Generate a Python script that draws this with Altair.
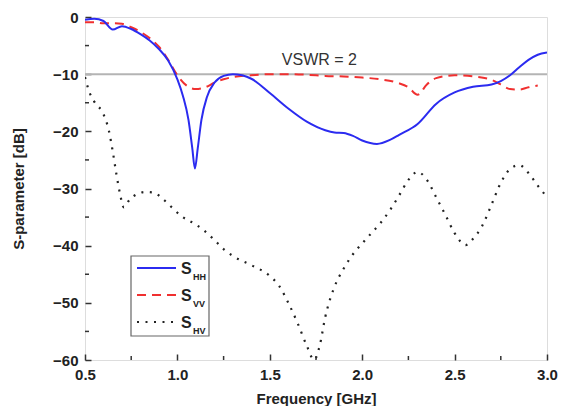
import altair as alt
import pandas as pd

# ---------------- data ----------------
freq_hh = [0.5, 0.55, 0.6, 0.65, 0.7, 0.75, 0.8, 0.85, 0.9, 0.95, 1.0, 1.03, 1.06, 1.08,
           1.095, 1.11, 1.13, 1.16, 1.2, 1.25, 1.3, 1.35, 1.4, 1.5, 1.6, 1.7, 1.8, 1.85,
           1.9, 1.95, 2.0, 2.08, 2.15, 2.2, 2.3, 2.4, 2.5, 2.6, 2.7, 2.75, 2.8, 2.85, 2.9,
           2.95, 3.0]
s_hh = [-0.5, -0.3, -0.7, -2.2, -1.6, -2.1, -3.0, -4.1, -5.6, -7.6, -10.9, -13.8, -18.0,
        -22.8, -26.5, -23.0, -18.0, -14.0, -11.5, -10.3, -10.0, -10.2, -10.8, -13.3, -16.0,
        -18.3, -19.8, -20.2, -20.3, -20.8, -21.6, -22.2, -21.5, -20.6, -18.7, -15.2, -13.2,
        -12.2, -11.8, -11.2, -10.2, -8.8, -7.5, -6.6, -6.2]

freq_vv = [0.5, 0.55, 0.6, 0.65, 0.7, 0.75, 0.8, 0.85, 0.9, 0.95, 1.0, 1.05, 1.1, 1.15,
           1.2, 1.25, 1.3, 1.4, 1.5, 1.6, 1.7, 1.8, 1.9, 2.0, 2.1, 2.2, 2.25, 2.3, 2.35,
           2.4, 2.5, 2.6, 2.7, 2.75, 2.8, 2.85, 2.9, 2.95]
s_vv = [-0.9, -0.9, -1.1, -1.1, -1.2, -1.8, -2.6, -3.7, -5.2, -7.5, -10.2, -12.0, -12.6,
        -12.3, -11.5, -10.9, -10.5, -10.2, -10.0, -10.0, -10.1, -10.3, -10.4, -10.6, -10.9,
        -11.6, -12.3, -13.6, -11.8, -10.7, -10.2, -10.4, -11.0, -11.8, -12.6, -12.7, -12.3,
        -12.0]

freq_hv = [0.5, 0.52, 0.55, 0.6, 0.63, 0.65, 0.67, 0.69, 0.71, 0.74, 0.78, 0.83, 0.87,
           0.92, 0.97, 1.02, 1.1, 1.15, 1.2, 1.25, 1.3, 1.4, 1.5, 1.55, 1.6, 1.65, 1.7,
           1.74, 1.77, 1.8, 1.85, 1.9, 1.95, 2.0, 2.05, 2.1, 2.15, 2.2, 2.25, 2.3, 2.35,
           2.4, 2.45, 2.5, 2.56, 2.6, 2.65, 2.7, 2.75, 2.8, 2.85, 2.9, 2.95, 3.0]
s_hv = [-10.5, -12.8, -14.8, -17.0, -20.0, -23.5, -27.5, -31.0, -33.3, -32.0, -31.0, -30.6,
        -30.7, -31.8, -33.3, -34.8, -36.3, -37.5, -39.0, -40.6, -41.8, -43.4, -45.3, -47.0,
        -50.0, -53.5, -57.5, -60.0, -57.5, -52.5, -47.2, -44.0, -41.5, -39.6, -37.8, -36.0,
        -33.8, -31.2, -28.5, -27.1, -28.5, -31.5, -34.6, -37.8, -39.9, -38.8, -36.5, -32.8,
        -29.0, -26.6, -25.9, -27.3, -29.5, -31.5]

vswr_level = [-10]
vswr_label = ["VSWR = 2"]
x_major = [0.5, 1.0, 1.5, 2.0, 2.5, 3.0]
x_minor = [0.75, 1.25, 1.75, 2.25, 2.75]
y_major = [0, -10, -20, -30, -40, -50, -60]
y_minor = [-5, -15, -25, -35, -45, -55]
legend_subs = ["HH", "VV", "HV"]

# ---------------- styling ----------------
W, H = 462, 343
FONT = "Liberation Sans"
BLUE = "#2b2bf0"
RED = "#f03030"
BLACK = "#222222"

xscale = alt.Scale(domain=[0.5, 3.0], nice=False, zero=False)
yscale = alt.Scale(domain=[-60, 0], nice=False, zero=False)

xaxis = alt.Axis(values=x_major, format=".1f", tickSize=6, offset=-6, domain=False,
                 grid=False, tickColor="#333", tickWidth=1.5, labelPadding=7,
                 labelFlush=False, labelOverlap=False,
                 labelFont=FONT, labelFontSize=15, labelFontWeight="bold", labelColor="#222",
                 title="Frequency [GHz]", titleFont=FONT, titleFontSize=15,
                 titleFontWeight="bold", titleColor="#222", titlePadding=9)
yaxis = alt.Axis(values=y_major, format="d", tickSize=6, offset=-6, domain=False,
                 grid=False, tickColor="#333", tickWidth=1.5, labelPadding=7,
                 labelFlush=False, labelOverlap=False,
                 labelFont=FONT, labelFontSize=15, labelFontWeight="bold", labelColor="#222",
                 title="S-parameter [dB]", titleFont=FONT, titleFontSize=15,
                 titleFontWeight="bold", titleColor="#222", titlePadding=26)

df_hh = pd.DataFrame({"f": freq_hh, "s": s_hh})
df_vv = pd.DataFrame({"f": freq_vv, "s": s_vv})
df_hv = pd.DataFrame({"f": freq_hv, "s": s_hv})

line_hh = alt.Chart(df_hh).mark_line(color=BLUE, strokeWidth=2, interpolate="monotone", clip=True).encode(
    x=alt.X("f:Q", scale=xscale, axis=xaxis),
    y=alt.Y("s:Q", scale=yscale, axis=yaxis),
)
line_vv = alt.Chart(df_vv).mark_line(color=RED, strokeWidth=2, strokeDash=[9, 6],
                                     interpolate="monotone", clip=True).encode(
    x=alt.X("f:Q", scale=xscale), y=alt.Y("s:Q", scale=yscale))
line_hv = alt.Chart(df_hv).mark_line(color=BLACK, strokeWidth=2.2, strokeDash=[2, 6.5],
                                     interpolate="monotone", clip=True).encode(
    x=alt.X("f:Q", scale=xscale), y=alt.Y("s:Q", scale=yscale))

vswr_rule = alt.Chart(pd.DataFrame({"v": vswr_level})).mark_rule(color="#b4b4b4", strokeWidth=2).encode(
    y=alt.Y("v:Q", scale=yscale))
vswr_text = alt.Chart(pd.DataFrame({"t": vswr_label, "f": [1.565], "s": [-7.5]})).mark_text(
    align="left", baseline="middle", font=FONT, fontSize=16, color="#333").encode(
    x=alt.X("f:Q", scale=xscale), y=alt.Y("s:Q", scale=yscale), text="t:N")

# minor ticks (inward)
minx = alt.Chart(pd.DataFrame({"m": x_minor})).mark_rule(color="#333", strokeWidth=1.5).encode(
    x=alt.X("m:Q", scale=xscale), y=alt.value(H), y2=alt.value(H - 4))
miny = alt.Chart(pd.DataFrame({"m": y_minor})).mark_rule(color="#333", strokeWidth=1.5).encode(
    y=alt.Y("m:Q", scale=yscale), x=alt.value(0), x2=alt.value(4))

# custom legend (with subscripts)
one = pd.DataFrame({"a": [0]})
lg_x0, lg_y0, lg_w, lg_h = 46, 239, 78, 80
legend_box = alt.Chart(one).mark_rect(fill="white", stroke="#666", strokeWidth=1.2).encode(
    x=alt.value(lg_x0), x2=alt.value(lg_x0 + lg_w), y=alt.value(lg_y0), y2=alt.value(lg_y0 + lg_h))
legend_layers = [legend_box]
styles = [dict(color=BLUE, strokeWidth=2),
          dict(color=RED, strokeWidth=2, strokeDash=[9, 6]),
          dict(color=BLACK, strokeWidth=2.2, strokeDash=[2, 6.5])]
for i, (sub, st) in enumerate(zip(legend_subs, styles)):
    yy = lg_y0 + 12 + i * 27
    legend_layers.append(alt.Chart(one).mark_rule(**st).encode(
        x=alt.value(lg_x0 + 6), x2=alt.value(lg_x0 + 45), y=alt.value(yy)))
    legend_layers.append(alt.Chart(one).mark_text(
        text="S", align="left", baseline="middle", font=FONT, fontSize=16,
        fontWeight="bold", color="#222").encode(x=alt.value(lg_x0 + 50), y=alt.value(yy + 1)))
    legend_layers.append(alt.Chart(one).mark_text(
        text=sub, align="left", baseline="middle", font=FONT, fontSize=9,
        fontWeight="bold", color="#222").encode(x=alt.value(lg_x0 + 62), y=alt.value(yy + 9)))

chart = alt.layer(
    vswr_rule, line_hv, line_vv, line_hh, vswr_text, minx, miny, *legend_layers
).properties(
    width=W, height=H,
    autosize=alt.AutoSizeParams(type="none"),
    padding={"left": 77, "top": 9, "right": 13, "bottom": 46},
).configure_view(
    stroke="#333", strokeWidth=1.5
).configure(background="white")

chart.save("out.html", embed_options={"renderer": "svg", "actions": False})
